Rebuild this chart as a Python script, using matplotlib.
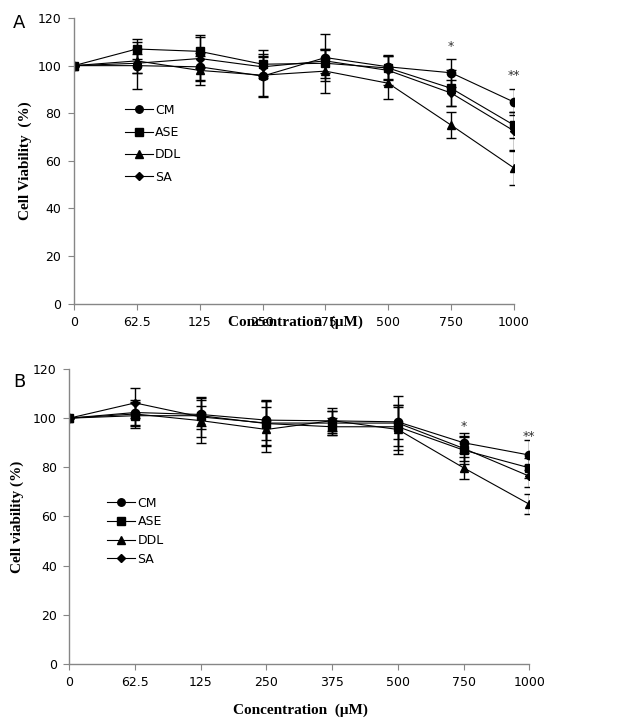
import numpy as np
import matplotlib.pyplot as plt
from matplotlib.lines import Line2D

# concentrations (categorical axis)
conc = ["0", "62.5", "125", "250", "375", "500", "750", "1000"]
series = ["CM", "ASE", "DDL", "SA"]

# panel A: mean and error
a_cm = [100, 100, 99.5, 95.6, 103.4, 99.5, 97, 84.7]
a_ase = [100, 107, 106, 100.6, 101, 99, 90.5, 75]
a_ddl = [100, 102, 98, 96, 97.7, 92.6, 75, 57]
a_sa = [100, 101, 103, 99.5, 102, 98, 88.5, 72.6]
a_cm_err = [0, 10, 6, 8.5, 10, 5, 6, 5.5]
a_ase_err = [0, 4, 7, 6, 6, 5, 7.5, 5.5]
a_ddl_err = [0, 5, 6, 9, 9, 6.5, 5.5, 7]
a_sa_err = [0, 4, 9, 4, 5, 6, 5.5, 8]

# panel B: mean and error
b_cm = [100, 102.3, 101.5, 99.2, 98.9, 98.5, 90, 85]
b_ase = [100, 101, 101, 97.8, 96.5, 96.5, 87, 79.8]
b_ddl = [100, 101.7, 99, 95.4, 99, 95.4, 79.8, 65]
b_sa = [100, 106.2, 100.5, 98, 98, 98, 87.7, 76.4]
b_cm_err = [0, 5, 6, 8, 4, 7, 4, 6]
b_ase_err = [0, 5, 4, 9, 3.5, 8, 5.5, 4]
b_ddl_err = [0, 5, 9, 9, 5, 10, 4.5, 4]
b_sa_err = [0, 6, 8, 9, 5, 11, 5, 4.5]

# significance marks (category index, label, y)
a_sig = [(6, "*", 108), (7, "**", 96)]
b_sig = [(6, "*", 96.5), (7, "**", 92.5)]

markers = {"CM": ("o", 6), "ASE": ("s", 6), "DDL": ("^", 6), "SA": ("D", 4)}
tick_font = "DejaVu Sans"
label_font = "Liberation Serif"
axis_col = "#868686"


def draw_panel(ax, means, errs, sig, ylabel, leg_anchor, leg_space):
    x = np.arange(len(conc))
    handles = []
    for name, m, e in zip(series, means, errs):
        mk, ms = markers[name]
        ax.errorbar(x, m, yerr=e, color="black", lw=0.8, marker=mk, ms=ms,
                    capsize=3.5, elinewidth=1.0, capthick=1.0)
        handles.append(Line2D([], [], color="black", lw=0.8, marker=mk, ms=ms * 0.9, label=name))
    for i, s, y in sig:
        ax.text(i, y, s, ha="center", va="center", fontsize=9, color="#333333")
    ax.set_xlim(0, len(conc) - 1)
    ax.set_ylim(0, 120)
    ax.set_xticks(x)
    ax.set_xticklabels(conc, fontsize=9, family=tick_font)
    ax.set_yticks(range(0, 121, 20))
    ax.set_yticklabels([str(v) for v in range(0, 121, 20)], fontsize=9, family=tick_font)
    for s in ["top", "right"]:
        ax.spines[s].set_visible(False)
    for s in ["left", "bottom"]:
        ax.spines[s].set_color(axis_col)
        ax.spines[s].set_linewidth(1.0)
    ax.tick_params(direction="out", length=4, color=axis_col, pad=5)
    ax.set_ylabel(ylabel, fontsize=11, fontweight="bold", family=label_font)
    leg = ax.legend(handles=handles, loc="center left", bbox_to_anchor=leg_anchor,
                    frameon=False, fontsize=9, handlelength=2.2, handletextpad=0.2,
                    labelspacing=leg_space, borderaxespad=0)
    for t in leg.get_texts():
        t.set_family(tick_font)


fig = plt.figure(figsize=(6.29, 7.19), dpi=100)
ax1 = fig.add_axes([0.1176, 0.5777, 0.6995, 0.3972])
ax2 = fig.add_axes([0.1102, 0.0765, 0.7313, 0.4103])

draw_panel(ax1, [a_cm, a_ase, a_ddl, a_sa], [a_cm_err, a_ase_err, a_ddl_err, a_sa_err],
           a_sig, "Cell Viability  (%)", (0.105, 0.56), 0.75)
draw_panel(ax2, [b_cm, b_ase, b_ddl, b_sa], [b_cm_err, b_ase_err, b_ddl_err, b_sa_err],
           b_sig, "Cell viability (%)", (0.072, 0.45), 0.45)

ax1.yaxis.set_label_coords(-0.095, 0.5)
ax2.yaxis.set_label_coords(-0.098, 0.5)

fig.text(295 / 629, 1 - 322 / 719, "Concentration  (\u03bcM)", ha="center", va="center",
         fontsize=11, fontweight="bold", family=label_font)
fig.text(300 / 629, 1 - 710 / 719, "Concentration  (\u03bcM)", ha="center", va="center",
         fontsize=11, fontweight="bold", family=label_font)
fig.text(19 / 629, 1 - 23 / 719, "A", ha="center", va="center", fontsize=13, family=tick_font)
fig.text(19 / 629, 1 - 382 / 719, "B", ha="center", va="center", fontsize=13, family=tick_font)

fig.savefig("out.png", dpi=100, facecolor="white")
